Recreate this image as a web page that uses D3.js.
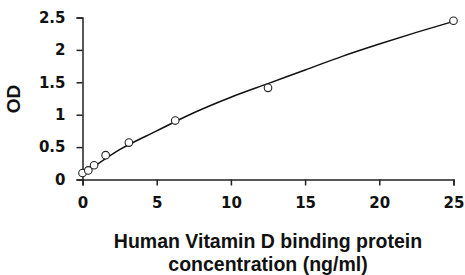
<!DOCTYPE html>
<html>
<head>
<meta charset="utf-8">
<script src="https://cdn.jsdelivr.net/npm/d3@7"></script>
<style>
  body { margin: 0; background: #fff; }
  .title { font-family: "Liberation Sans", Arial, sans-serif; font-weight: bold; fill: #111; }
</style>
</head>
<body>
<div id="chart"></div>
<script>
// standard points
var conc = [0, 0.39, 0.78, 1.56, 3.125, 6.25, 12.5, 25];
var od = [0.10, 0.14, 0.22, 0.375, 0.57, 0.91, 1.415, 2.45];

// fitted curve
var fitConc = [0, 2.5, 5, 7.5, 10, 12.5, 15, 17.5, 20, 22.5, 25];
var fitOd = [0.07, 0.46, 0.75, 1.03, 1.27, 1.48, 1.69, 1.90, 2.09, 2.27, 2.44];

var xTicks = [0, 5, 10, 15, 20, 25];
var yTicks = [0, 0.5, 1, 1.5, 2, 2.5];

var width = 465, height = 275;

var x = d3.scaleLinear().domain([0, 25]).range([82.5, 453.5]);
var y = d3.scaleLinear().domain([0, 2.5]).range([179.5, 17.5]);

var svg = d3.select("#chart").append("svg")
    .attr("width", width)
    .attr("height", height);

/* axes */
var xAxis = d3.axisBottom(x).tickValues(xTicks).tickSize(6).tickPadding(12).tickFormat(d3.format("d"));
var yAxis = d3.axisLeft(y).tickValues(yTicks).tickSize(6).tickPadding(11).tickFormat(d => d);

var gx = svg.append("g")
    .attr("transform", `translate(0, ${y(0)})`)
    .call(xAxis);
var gy = svg.append("g")
    .attr("transform", `translate(${x(0)}, 0)`)
    .call(yAxis);

[gx, gy].forEach(function(g) {
    g.select(".domain").attr("stroke", "#222").attr("stroke-width", 1.5);
    g.selectAll(".tick line").attr("stroke", "#222").attr("stroke-width", 1.5);
    g.selectAll(".tick text")
        .style("font-family", "'DejaVu Sans', sans-serif")
        .style("font-weight", "bold")
        .style("font-size", "15px")
        .style("fill", "#111");
});

/* fitted line */
var line = d3.line()
    .x((d, i) => x(fitConc[i]))
    .y(d => y(d))
    .curve(d3.curveMonotoneX);

svg.append("path")
    .attr("d", line(fitOd))
    .attr("fill", "none")
    .attr("stroke", "#111")
    .attr("stroke-width", 1.5);

/* points */
svg.append("g")
    .selectAll("circle")
    .data(od).enter()
    .append("circle")
    .attr("cx", (d, i) => x(conc[i]))
    .attr("cy", d => y(d))
    .attr("r", 3.8)
    .attr("fill", "#fff")
    .attr("stroke", "#222")
    .attr("stroke-width", 1.1);

/* titles */
svg.append("text")
    .attr("class", "title")
    .attr("transform", "translate(20, 99) rotate(-90)")
    .attr("text-anchor", "middle")
    .attr("font-size", 19)
    .text("OD");

svg.append("text")
    .attr("class", "title")
    .attr("x", 268)
    .attr("y", 248)
    .attr("text-anchor", "middle")
    .attr("font-size", 19.5)
    .text("Human Vitamin D binding protein");

svg.append("text")
    .attr("class", "title")
    .attr("x", 268)
    .attr("y", 271)
    .attr("text-anchor", "middle")
    .attr("font-size", 19.5)
    .text("concentration (ng/ml)");
</script>
</body>
</html>
